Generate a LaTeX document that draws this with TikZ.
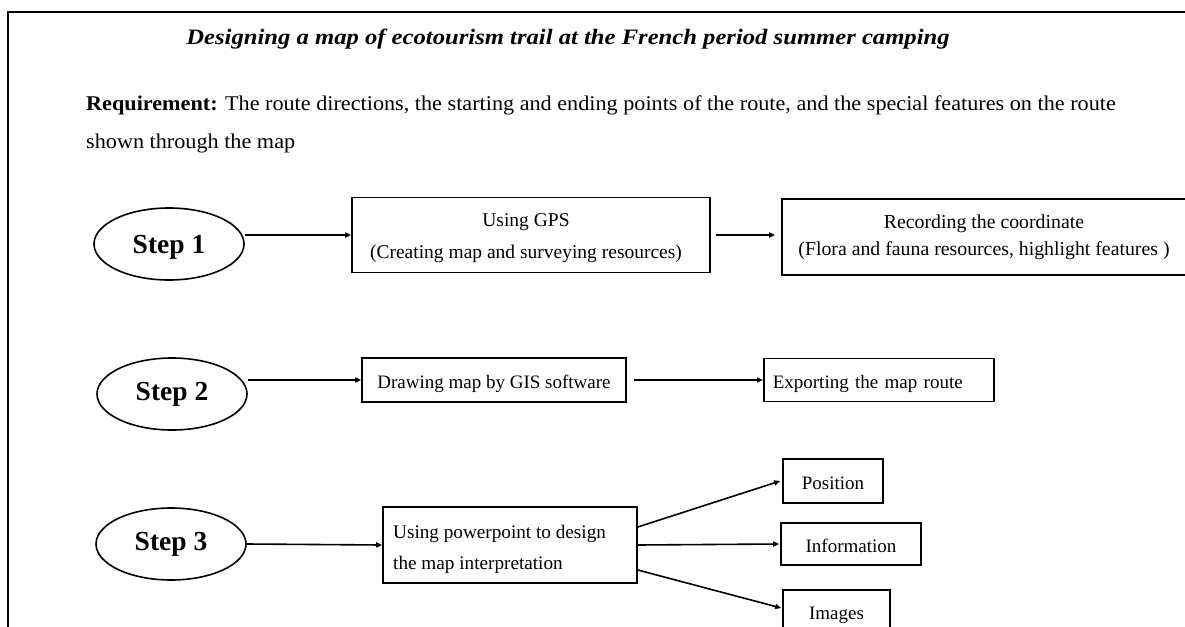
\documentclass[tikz,border=0pt]{standalone}
\usepackage{fontspec}
\setmainfont{Liberation Serif}
\usetikzlibrary{arrows.meta,shapes.geometric}
\begin{document}
\begin{tikzpicture}[x=1pt,y=-1pt,
  arr/.style={line width=1.6pt,-{Triangle[length=6pt,width=5pt]}},
  stepnode/.style={ellipse,draw,line width=1.6pt,minimum width=150pt,minimum height=72pt,inner sep=0pt,font=\fontsize{27.5}{30}\selectfont\bfseries,text height=18pt,text depth=6pt},
  boxnode/.style={rectangle,draw,line width=1.6pt,inner sep=0pt,align=center,font=\fontsize{19}{27}\selectfont},
  onebox/.style={boxnode,text height=21pt,text depth=4.5pt},
  boxtext/.style={inner sep=0pt,font=\fontsize{19.5}{32}\selectfont},
  plaintext/.style={inner sep=0pt,font=\fontsize{21}{24}\selectfont}
]
\useasboundingbox (0,0) rectangle (1185,626);
\fill[white] (0,0) rectangle (1185,626);
\draw[line width=1.8pt] (8,630) -- (8,12) -- (1190,12);

\node[inner sep=0pt,font=\fontsize{22}{24}\selectfont\bfseries\itshape] (title) at (568,39.5) {\scalebox{1.12}[1]{Designing a map of ecotourism trail at the French period summer camping}};
\node[plaintext,anchor=base west] (req1) at (86,110) {\scalebox{1.057}[1]{\textbf{Requirement:} The route directions, the starting and ending points of the route, and the special features on the route}};
\node[plaintext,anchor=base west] (req2) at (86,148) {\scalebox{1.057}[1]{shown through the map}};

\node[stepnode,text height=25pt] (s1) at (169,244) {Step 1};
\node[stepnode] (s2) at (172,394) {Step 2};
\node[stepnode] (s3) at (171,544) {Step 3};

\node[boxnode,minimum width=358pt,minimum height=75pt] (gps) at (531,235) {};
\node[boxtext,align=center] (gpstext) at (526,238.5) {Using GPS\\(Creating map and surveying resources)};
\node[boxnode,minimum width=404pt,minimum height=76pt] (rec) at (984,237) {};
\node[boxtext,align=center,font=\fontsize{19.8}{27}\selectfont] (rectext) at (984,237.5) {Recording the coordinate\\(Flora and fauna resources, highlight features )};

\node[onebox,minimum width=264pt,minimum height=44pt] (gis) at (494,380) {Drawing map by GIS software};
\node[onebox,anchor=west,text width=212pt,inner xsep=9pt,align=left,minimum height=43pt] (exp) at (763,380) {Exporting the map route};

\node[boxnode,minimum width=254pt,minimum height=76pt] (ppt) at (510,545) {};
\node[boxtext,anchor=west,align=left,font=\fontsize{19.2}{31}\selectfont] (ppttext) at (393,549) {Using powerpoint to design\\the map interpretation};

\node[onebox,minimum width=100pt,minimum height=44pt] (pos) at (833,481) {Position};
\node[onebox,minimum width=140pt,minimum height=42pt] (info) at (851,544) {Information};
\node[onebox,minimum width=107pt,minimum height=44pt,text height=19pt] (img) at (836.5,612) {Images};

\draw[arr] (s1.east |- gps.west) -- (gps.west);
\draw[arr,shorten <=5pt,shorten >=6pt] (gps.east) -- (gps.east -| rec.west);
\draw[arr] (s2.east |- gis.west) -- (gis.west);
\draw[arr,shorten <=7pt] (gis.east) -- (exp.west);
\draw[arr] (s3.east) -- (ppt.west);
\draw[arr] ([yshift=18pt]ppt.east) -- ([xshift=-2pt]pos.west);
\draw[arr] (ppt.east) -- ([xshift=-1pt]info.west);
\draw[arr] ([yshift=-25pt]ppt.east) -- ([yshift=4pt,xshift=-1pt]img.west);
\end{tikzpicture}
\end{document}
